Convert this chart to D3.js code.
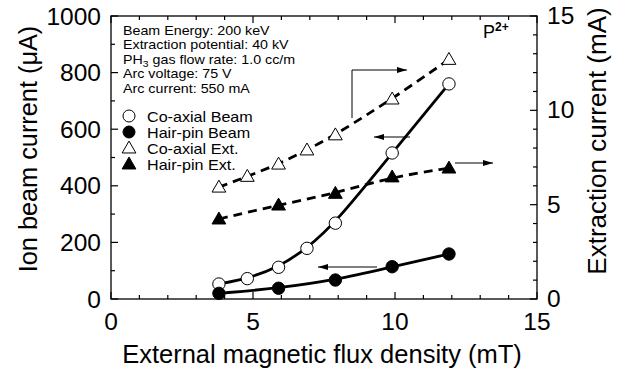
<!DOCTYPE html>
<html>
<head>
<meta charset="utf-8">
<script src="https://cdn.jsdelivr.net/npm/d3@7"></script>
<style>
  body { margin: 0; background: #fff; }
  svg { font-family: "Liberation Sans", Arial, sans-serif; }
</style>
</head>
<body>
<div id="chart"></div>
<script>
// Data
const fluxCoaxBeam = [3.8, 4.8, 5.9, 6.9, 7.9, 9.9, 11.9];
const coaxBeam = [53, 72, 112, 179, 268, 516, 760];
const fluxHairBeam = [3.8, 5.9, 7.9, 9.9, 11.9];
const hairBeam = [20, 38, 67, 114, 159];
const fluxCoaxExt = [3.8, 4.8, 5.9, 6.9, 7.9, 9.9, 11.9];
const coaxExt = [5.93, 6.5, 7.15, 7.9, 8.7, 10.6, 12.7];
const fluxHairExt = [3.8, 5.9, 7.9, 9.9, 11.9];
const hairExt = [4.24, 4.98, 5.6, 6.47, 6.94];

const infoLines = ["Beam Energy: 200 keV", "Extraction potential: 40 kV", "PH3 gas flow rate: 1.0 cc/m", "Arc voltage: 75 V", "Arc current: 550 mA"];
const legendNames = ["Co-axial Beam", "Hair-pin Beam", "Co-axial Ext.", "Hair-pin Ext."];

const W = 617, H = 374;
const m = {left: 111, right: 80, top: 16, bottom: 75};

const svg = d3.select("#chart").append("svg")
    .attr("width", W)
    .attr("height", H);

const x = d3.scaleLinear().domain([0, 15]).range([m.left, W - m.right]);
const yL = d3.scaleLinear().domain([0, 1000]).range([H - m.bottom, m.top]);
const yR = d3.scaleLinear().domain([0, 15]).range([H - m.bottom, m.top]);

const x0 = x(0), x1 = x(15), y0 = yL(0), y1 = yL(1000);

// frame
svg.append("rect")
    .attr("x", x0).attr("y", y1)
    .attr("width", x1 - x0).attr("height", y0 - y1)
    .attr("fill", "none").attr("stroke", "#000").attr("stroke-width", 1.3);

// ticks (inward)
const tick = (x1_, y1_, x2_, y2_) => svg.append("line")
    .attr("x1", x1_).attr("y1", y1_).attr("x2", x2_).attr("y2", y2_)
    .attr("stroke", "#000").attr("stroke-width", 1.2);

d3.range(0, 16, 1).forEach(v => {
    const len = v % 5 === 0 ? 7 : 4;
    tick(x(v), y0, x(v), y0 - len);
    tick(x(v), y1, x(v), y1 + len);
});
d3.range(0, 1001, 100).forEach(v => {
    const len = v % 200 === 0 ? 7 : 4;
    tick(x0, yL(v), x0 + len, yL(v));
});
d3.range(0, 16, 1).forEach(v => {
    const len = v % 5 === 0 ? 7 : 4;
    tick(x1, yR(v), x1 - len, yR(v));
});

// tick labels
const lab = svg.append("g").attr("font-size", 24.5).attr("fill", "#000");
[0, 5, 10, 15].forEach(v => {
    lab.append("text").attr("x", x(v)).attr("y", 330)
        .attr("text-anchor", "middle").text(v);
});
[0, 200, 400, 600, 800, 1000].forEach(v => {
    lab.append("text").attr("x", x0 - 10).attr("y", yL(v) + 8.5)
        .attr("text-anchor", "end").text(v);
});
[0, 5, 10, 15].forEach(v => {
    lab.append("text").attr("x", x1 + 10).attr("y", yR(v) + 8)
        .attr("text-anchor", "start").text(v);
});

// axis titles
svg.append("text")
    .attr("x", 322).attr("y", 363)
    .attr("text-anchor", "middle").attr("font-size", 25.5)
    .text("External magnetic flux density (mT)");
svg.append("text")
    .attr("transform", `translate(37,149) rotate(-90)`)
    .attr("text-anchor", "middle").attr("font-size", 25.3)
    .text("Ion beam current (\u03bcA)");
svg.append("text")
    .attr("transform", `translate(606,141) rotate(-90)`)
    .attr("text-anchor", "middle").attr("font-size", 26)
    .text("Extraction current (mA)");

// curves
const lineL = d3.line().x(d => x(d[0])).y(d => yL(d[1])).curve(d3.curveBasis);
const lineR = d3.line().x(d => x(d[0])).y(d => yR(d[1])).curve(d3.curveBasis);
const zip = (a, b) => a.map((v, i) => [v, b[i]]);

svg.append("path").attr("d", lineR(zip(fluxCoaxExt, coaxExt)))
    .attr("fill", "none").attr("stroke", "#000").attr("stroke-width", 2.8)
    .attr("stroke-dasharray", "9,6");
svg.append("path").attr("d", lineR(zip(fluxHairExt, hairExt)))
    .attr("fill", "none").attr("stroke", "#000").attr("stroke-width", 2.8)
    .attr("stroke-dasharray", "9,6");
svg.append("path").attr("d", lineL(zip(fluxCoaxBeam, coaxBeam)))
    .attr("fill", "none").attr("stroke", "#000").attr("stroke-width", 2.8);
svg.append("path").attr("d", lineL(zip(fluxHairBeam, hairBeam)))
    .attr("fill", "none").attr("stroke", "#000").attr("stroke-width", 2.8);

// markers
const tri = d3.symbol().type(d3.symbolTriangle).size(82);
function triangles(xs, ys, fill) {
    svg.append("g").selectAll("path").data(zip(xs, ys)).enter().append("path")
        .attr("d", tri)
        .attr("transform", d => `translate(${x(d[0])},${yR(d[1]) + 1})`)
        .attr("fill", fill).attr("stroke", "#000").attr("stroke-width", 1);
}
function circles(xs, ys, fill) {
    svg.append("g").selectAll("circle").data(zip(xs, ys)).enter().append("circle")
        .attr("cx", d => x(d[0])).attr("cy", d => yL(d[1]))
        .attr("r", 6.2)
        .attr("fill", fill).attr("stroke", "#000").attr("stroke-width", 1);
}
triangles(fluxCoaxExt, coaxExt, "#fff");
triangles(fluxHairExt, hairExt, "#000");
circles(fluxCoaxBeam, coaxBeam, "#fff");
circles(fluxHairBeam, hairBeam, "#000");

// arrows
svg.append("defs").append("marker")
    .attr("id", "ah").attr("viewBox", "0 0 10 6")
    .attr("refX", 10).attr("refY", 3)
    .attr("markerWidth", 13).attr("markerHeight", 6)
    .attr("markerUnits", "userSpaceOnUse")
    .attr("orient", "auto")
    .append("path").attr("d", "M0,0L10,3L0,6Z").attr("fill", "#000");

const arrow = pts => svg.append("path")
    .attr("d", d3.line()(pts))
    .attr("fill", "none").attr("stroke", "#000").attr("stroke-width", 1)
    .attr("marker-end", "url(#ah)");
arrow([[352, 118], [352, 70], [407, 70]]);
arrow([[410, 137], [374, 137]]);
arrow([[455, 163], [493, 163]]);
arrow([[377, 267], [318, 267]]);

// info text (slightly stretched horizontally like the original)
const info = svg.append("g").attr("font-size", 12.4)
    .attr("transform", "translate(123,0) scale(1.15,1)");
infoLines.forEach((t, i) => {
    const tx = info.append("text").attr("x", 0).attr("y", 35 + i * 14.5);
    if (t.startsWith("PH3")) {
        tx.append("tspan").text("PH");
        tx.append("tspan").attr("font-size", 9).attr("dy", 3).text("3");
        tx.append("tspan").attr("dy", -3).text(t.slice(3));
    } else {
        tx.text(t);
    }
});

// legend
const leg = svg.append("g");
legendNames.forEach((name, i) => {
    const base = 122 + i * 16;
    const cy = base - 6;
    if (i < 2) {
        leg.append("circle").attr("cx", 129).attr("cy", cy).attr("r", 6)
            .attr("fill", i === 0 ? "#fff" : "#000").attr("stroke", "#000");
    } else {
        leg.append("path").attr("d", tri)
            .attr("transform", `translate(129,${cy + 1})`)
            .attr("fill", i === 2 ? "#fff" : "#000").attr("stroke", "#000");
    }
    leg.append("text").attr("font-size", 13.8)
        .attr("transform", `translate(147,${base}) scale(1.17,1)`)
        .text(name);
});

// ion label
const p = svg.append("text").attr("x", 483).attr("y", 38).attr("font-size", 18);
p.append("tspan").text("P");
p.append("tspan").attr("font-size", 12).attr("font-weight", "bold").attr("dy", -7).text("2+");
</script>
</body>
</html>
